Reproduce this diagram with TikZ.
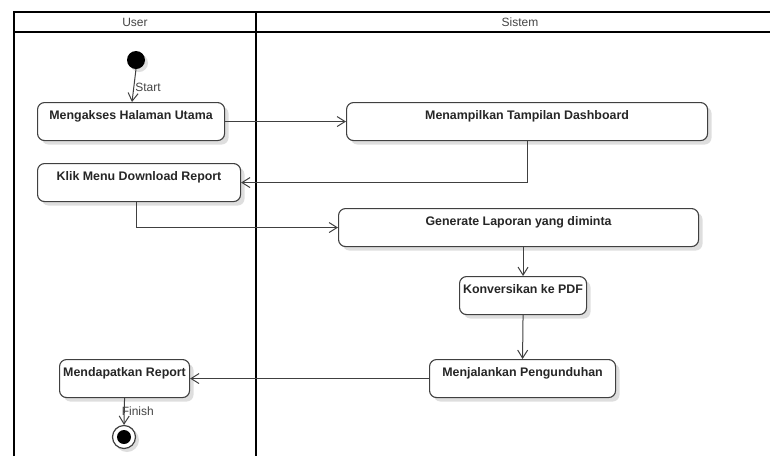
\documentclass[tikz,border=0pt]{standalone}
\usepackage{fontspec}
\setmainfont{Liberation Sans}
\usetikzlibrary{arrows.meta,shadows,calc}

\definecolor{edge}{HTML}{404040}
\definecolor{ink}{HTML}{262626}
\definecolor{lanetxt}{HTML}{444444}

\tikzset{
  x=1pt, y=-1pt,
  lane/.style={line width=2pt, black},
  action/.style={draw=edge, line width=1.1pt, rounded corners=7pt, fill=white,
    anchor=north west, inner sep=0pt, text height=17pt, text depth=21pt,
    font=\fontsize{12.4}{14}\selectfont\bfseries, text=ink,
    drop shadow={shadow xshift=4pt, shadow yshift=-4pt, fill=black!13, opacity=1}},
  flow/.style={draw=edge, line width=1pt, -{Straight Barb[length=8pt,width=10pt,line width=1pt]}},
  tag/.style={font=\fontsize{12}{14}\selectfont, text=lanetxt, inner sep=0pt, anchor=west},
  lanehead/.style={font=\fontsize{12}{14}\selectfont, text=lanetxt, inner sep=0pt}
}

\begin{document}
\begin{tikzpicture}
\useasboundingbox (0,0) rectangle (770,456);

% swimlane frame
\draw[lane] (14,456) -- (14,12) -- (770,12);
\draw[lane] (14,32) -- (770,32);
\draw[lane] (256,12) -- (256,456);
\node[lanehead] (huser) at (135,22) {User};
\node[lanehead] (hsys) at (520,22) {Sistem};

% initial and final states
\fill[black!13] (139,63) circle (9);
\node[circle, fill=black, minimum size=18pt, inner sep=0pt] (start) at (136,60) {};
\fill[black!13] (127,440) circle (12);
\node[circle, draw=edge, line width=1.2pt, fill=white, minimum size=23pt, inner sep=0pt] (finish) at (124,437) {};
\fill[black] (finish.center) circle (7);

% actions
\node[action, minimum width=187pt] (akses) at (37,102) {Mengakses Halaman Utama};
\node[action, minimum width=361pt] (dash) at (346,102) {Menampilkan Tampilan Dashboard};
\node[action, minimum width=203pt] (klik) at (37,163) {Klik Menu Download Report};
\node[action, minimum width=360pt] (gen) at (338,208) {Generate Laporan yang diminta};
\node[action, minimum width=127pt] (pdf) at (459,276) {Konversikan ke PDF};
\node[action, minimum width=186pt] (unduh) at (429,359) {Menjalankan Pengunduhan};
\node[action, minimum width=130pt] (dapat) at (59,359) {Mendapatkan Report};

% control flow
\draw[flow] (start.south) -- ($(akses.north west)+(95,0)$)
  node[tag, pos=0.55, xshift=1pt] (lstart) {Start};
\draw[flow] (akses.east) -- (dash.west);
\draw[flow] (dash.south) |- (klik.east);
\draw[flow] ($(klik.south)+(-3,0)$) |- (gen.west);
\draw[flow] (pdf.north |- gen.south) -- (pdf.north);
\draw[flow] (pdf.south) -- (unduh.north);
\draw[flow] (unduh.west) -- (dapat.east);
\draw[flow] (dapat.south) -- (finish.north)
  node[tag, pos=0.5, xshift=-3pt] (lfinish) {Finish};
\end{tikzpicture}
\end{document}
